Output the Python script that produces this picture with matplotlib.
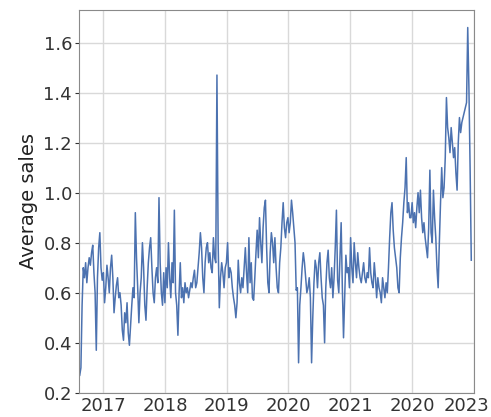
import numpy as np
import pandas as pd
import matplotlib
matplotlib.use("Agg")
import matplotlib.pyplot as plt
import matplotlib.transforms as mtransforms

# weekly average sales
sales_2016 = [0.27, 0.30, 0.55, 0.70, 0.66, 0.72, 0.64, 0.70, 0.74, 0.71,
              0.76, 0.79, 0.68, 0.60, 0.37, 0.66, 0.78, 0.84, 0.70, 0.65]
sales_2017 = [0.68, 0.56, 0.62, 0.71, 0.66, 0.60, 0.70, 0.75,
              0.66, 0.52, 0.58, 0.63, 0.66, 0.58, 0.60, 0.55,
              0.45, 0.41, 0.52, 0.48, 0.56, 0.44, 0.39, 0.47,
              0.55, 0.62, 0.58, 0.92, 0.74, 0.62, 0.48, 0.60,
              0.66, 0.80, 0.70, 0.55, 0.49, 0.62, 0.72, 0.78,
              0.82, 0.70, 0.60, 0.56, 0.66, 0.70, 0.64, 0.98,
              0.72, 0.60, 0.55, 0.68]
sales_2018 = [0.56, 0.70, 0.62, 0.80, 0.66, 0.58, 0.72, 0.64,
              0.93, 0.60, 0.55, 0.43, 0.60, 0.72, 0.58, 0.62,
              0.56, 0.64, 0.60, 0.62, 0.58, 0.61, 0.64, 0.62,
              0.66, 0.69, 0.62, 0.64, 0.70, 0.76, 0.84, 0.78,
              0.66, 0.60, 0.72, 0.78, 0.80, 0.72, 0.76, 0.70,
              0.68, 0.82, 0.74, 0.72, 1.47, 0.80, 0.54, 0.66,
              0.72, 0.68, 0.62, 0.70]
sales_2019 = [0.72, 0.80, 0.66, 0.70, 0.68, 0.62, 0.58, 0.55,
              0.50, 0.56, 0.73, 0.64, 0.60, 0.66, 0.62, 0.70,
              0.78, 0.68, 0.60, 0.82, 0.64, 0.72, 0.58, 0.57,
              0.66, 0.76, 0.85, 0.74, 0.90, 0.80, 0.72, 0.86,
              0.94, 0.97, 0.78, 0.64, 0.60, 0.76, 0.84, 0.80,
              0.72, 0.82, 0.70, 0.62, 0.60, 0.72, 0.78, 0.88,
              0.96, 0.86, 0.82, 0.88]
sales_2020 = [0.90, 0.84, 0.88, 0.97, 0.92, 0.86, 0.80, 0.61,
              0.62, 0.32, 0.55, 0.62, 0.70, 0.76, 0.72, 0.66,
              0.60, 0.62, 0.66, 0.58, 0.32, 0.50, 0.64, 0.73,
              0.70, 0.62, 0.72, 0.76, 0.66, 0.58, 0.55, 0.40,
              0.62, 0.72, 0.77, 0.66, 0.62, 0.70, 0.58, 0.66,
              0.78, 0.93, 0.65, 0.60, 0.74, 0.88, 0.62, 0.42,
              0.58, 0.75, 0.68, 0.70]
sales_2021 = [0.62, 0.82, 0.70, 0.64, 0.80, 0.72, 0.66, 0.76,
              0.70, 0.66, 0.64, 0.68, 0.72, 0.66, 0.64, 0.68,
              0.66, 0.78, 0.68, 0.64, 0.62, 0.72, 0.66, 0.58,
              0.66, 0.62, 0.60, 0.56, 0.66, 0.62, 0.58, 0.64,
              0.60, 0.70, 0.82, 0.92, 0.96, 0.85, 0.78, 0.74,
              0.70, 0.62, 0.60, 0.74, 0.82, 0.88, 0.96, 1.02,
              1.14, 0.92, 0.96, 0.90]
sales_2022 = [0.90, 0.96, 0.88, 0.92, 0.86, 0.94, 1.00, 0.92,
              1.01, 0.90, 0.84, 0.88, 0.82, 0.78, 0.74, 0.86,
              1.09, 0.84, 0.80, 1.01, 0.90, 0.82, 0.70, 0.62,
              0.80, 0.96, 1.10, 0.98, 1.02, 1.14, 1.38, 1.26,
              1.22, 1.16, 1.26, 1.20, 1.14, 1.18, 1.08, 1.01,
              1.20, 1.30, 1.24, 1.28, 1.30, 1.32, 1.34, 1.36,
              1.66, 1.42, 1.10, 0.73]

year_ticks = ["2017-01-01", "2018-01-01", "2019-01-01", "2020-01-01",
              "2021-01-01", "2022-01-01", "2023-01-01"]
year_labels = ["2017", "2018", "2019", "2020", "2021", "2020", "2023"]

sales = np.concatenate([sales_2016, sales_2017, sales_2018, sales_2019,
                        sales_2020, sales_2021, sales_2022])
weeks = pd.date_range("2016-08-14", periods=len(sales), freq="7D")

fig = plt.figure(figsize=(4.91, 4.17), dpi=100)
ax = fig.add_axes([0.161, 0.058, 0.804, 0.918])

ax.plot(weeks, sales, color="#4c72b0", lw=1.1)

ax.set_xlim(pd.Timestamp("2016-08-10"), pd.Timestamp("2023-01-02"))
ax.set_ylim(0.2, 1.73)
ax.set_xticks(pd.to_datetime(year_ticks))
ax.set_xticklabels(year_labels)
ax.set_yticks([0.2, 0.4, 0.6, 0.8, 1.0, 1.2, 1.4, 1.6])
ax.set_ylabel("Average sales", fontsize=14, color="#222222", labelpad=4)

ax.grid(True, color="#d9d9d9", lw=1)
ax.set_axisbelow(True)
for s in ax.spines.values():
    s.set_color("#8a8a8a")
ax.tick_params(axis="both", labelsize=13, colors="#333333", length=3, width=0.8, pad=2)
ax.tick_params(axis="x", length=0, pad=3)

# last year label sits a bit left of its tick so it stays inside the figure
last = ax.get_xticklabels()[-1]
last.set_transform(last.get_transform() + mtransforms.ScaledTranslation(-5 / 72, 0, fig.dpi_scale_trans))

fig.savefig("out.png", dpi=100)
